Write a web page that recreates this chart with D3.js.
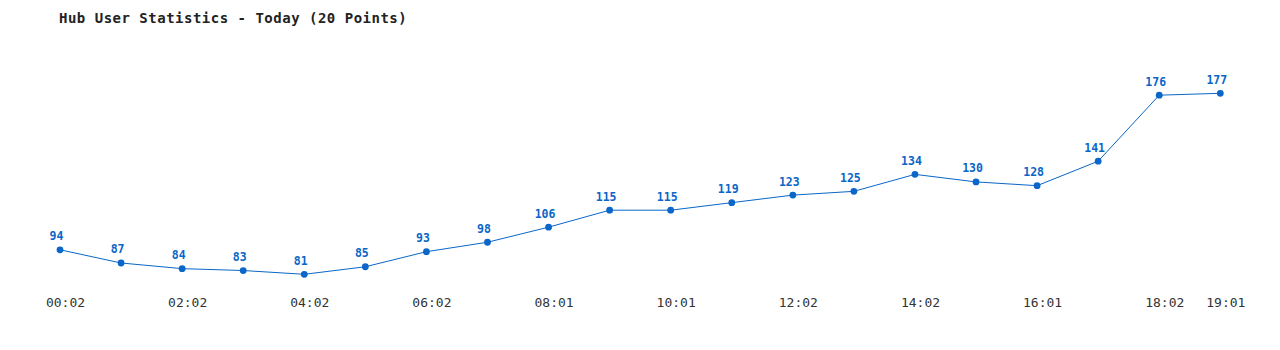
<!DOCTYPE html>
<html>
<head>
<meta charset="utf-8">
<script src="https://cdn.jsdelivr.net/npm/d3@7"></script>
<style>
  html, body { margin: 0; padding: 0; background: #fff; }
  svg { display: block; }
  .title { font-family: "DejaVu Sans Mono", monospace; font-size: 14px; font-weight: bold; letter-spacing: 0.5px; fill: #222; }
  .x.axis text { font-family: "DejaVu Sans Mono", monospace; font-size: 13px; fill: #333; }
  .val { font-family: "DejaVu Sans Mono", monospace; font-size: 11.5px; font-weight: bold; fill: #0a66c8; }
</style>
</head>
<body>
<svg id="chart" width="1280" height="350"></svg>
<script>
  // data
  var times = ['00:02', '01:02', '02:02', '03:02', '04:02', '05:02', '06:02', '07:01', '08:01', '09:01',
               '10:01', '11:02', '12:02', '13:02', '14:02', '15:01', '16:01', '17:02', '18:02', '19:01'];
  var users = [94, 87, 84, 83, 81, 85, 93, 98, 106, 115, 115, 119, 123, 125, 134, 130, 128, 141, 176, 177];
  // tick labels shown: every second point plus the last one
  var tickLabels = ['00:02', '02:02', '04:02', '06:02', '08:01', '10:01', '12:02', '14:02', '16:01', '18:02', '19:01'];

  var color = '#0a66c8';
  var svg = d3.select('#chart');

  var data = times.map(function (t, i) { return {time: t, value: users[i]}; });

  var xScale = d3.scalePoint()
      .domain(times)
      .range([60, 1220.3]);

  var yScale = d3.scaleLinear()
      .domain([d3.min(users), d3.max(users)])
      .range([274.3, 93.3]);

  svg.append('text')
      .attr('class', 'title')
      .attr('x', 59)
      .attr('y', 22.5)
      .text('Hub User Statistics - Today (20 Points)');

  var xAxis = d3.axisBottom(xScale)
      .tickValues(tickLabels)
      .tickSize(0)
      .tickPadding(0);

  var ax = svg.append('g')
      .attr('class', 'x axis')
      .attr('transform', 'translate(5,297)')
      .call(xAxis);
  ax.select('.domain').remove();
  ax.selectAll('text').attr('dy', '0.8em');

  var line = d3.line()
      .x(function (d) { return xScale(d.time); })
      .y(function (d) { return yScale(d.value); });

  svg.append('path')
      .datum(data)
      .attr('fill', 'none')
      .attr('stroke', color)
      .attr('stroke-width', 1)
      .attr('d', line);

  svg.append('g')
      .selectAll('circle')
      .data(data)
      .enter()
      .append('circle')
      .attr('cx', function (d) { return xScale(d.time); })
      .attr('cy', function (d) { return yScale(d.value); })
      .attr('r', 3.4)
      .attr('fill', color);

  svg.append('g')
      .selectAll('text')
      .data(data)
      .enter()
      .append('text')
      .attr('class', 'val')
      .attr('text-anchor', 'middle')
      .attr('x', function (d) { return xScale(d.time) - 3.5; })
      .attr('y', function (d) { return yScale(d.value) - 9.5; })
      .text(function (d) { return d.value; });
</script>
</body>
</html>
